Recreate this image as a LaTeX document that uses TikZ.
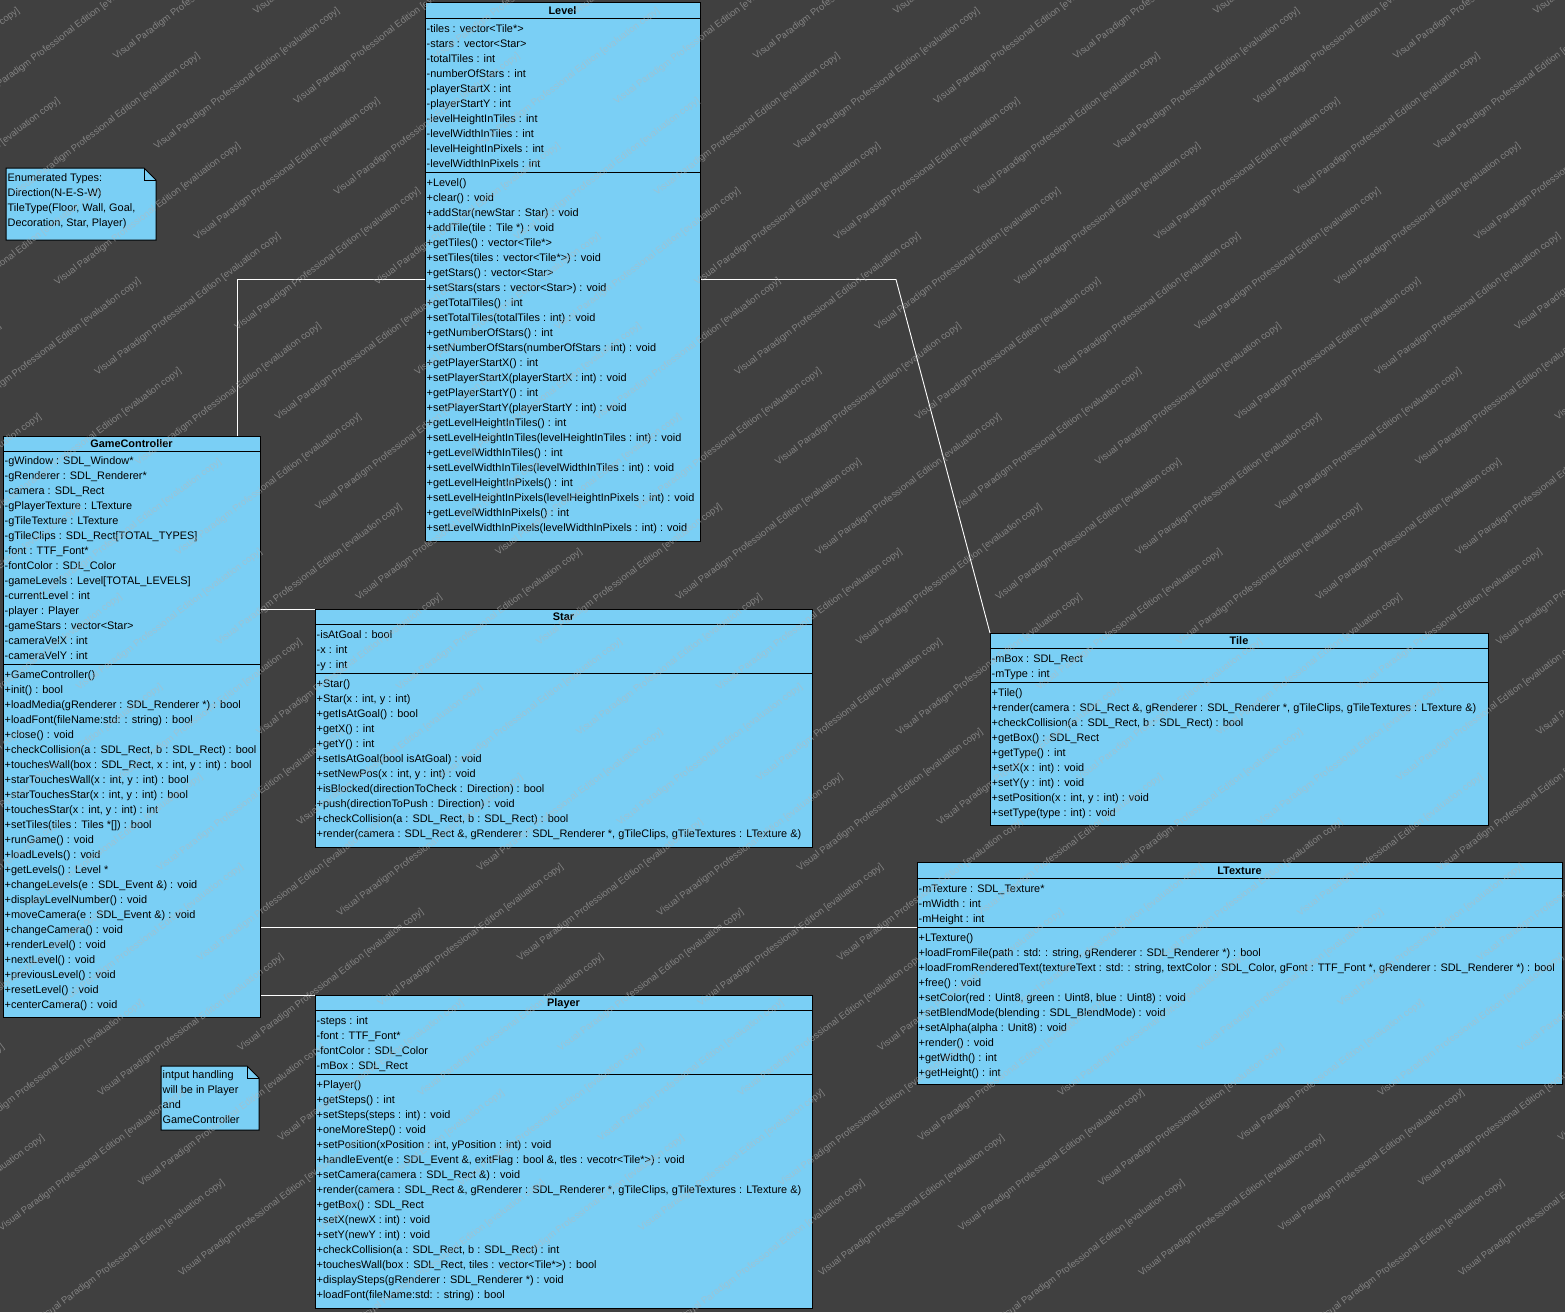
\documentclass[tikz,border=0pt]{standalone}
\usepackage{fontspec}
\setmainfont{Liberation Sans}
\usetikzlibrary{positioning}

\definecolor{bgdark}{RGB}{64,64,64}
\definecolor{classblue}{RGB}{122,207,245}
\definecolor{wmgray}{RGB}{185,185,185}

\newcommand{\wmtext}{Visual Paradigm Professional Edition [evaluation copy]}
\newcommand{\wmrow}{\wmtext\hspace{70pt}\wmtext\hspace{70pt}\wmtext\hspace{70pt}\wmtext\hspace{70pt}\wmtext\hspace{70pt}%
  \wmtext\hspace{70pt}\wmtext\hspace{70pt}\wmtext\hspace{70pt}\wmtext}

\tikzset{
	classbox/.style={draw=black, fill=classblue, line width=1pt, anchor=north west, inner sep=0pt},
	classname/.style={anchor=base, inner sep=0pt, font=\fontsize{10.9}{15}\selectfont\bfseries},
	members/.style={anchor=north west, align=left, inner sep=0pt, font=\fontsize{10.9}{15}\selectfont, execute at begin node=\strut},
	divider/.style={draw=black, line width=1pt},
	assoc/.style={draw=white, line width=0.9pt},
	notebox/.style={draw=black, fill=classblue, line width=1pt},
	wmark/.style={anchor=west, inner sep=0pt, rotate=37, text=wmgray, text opacity=0.55, font=\fontsize{9.5}{9.5}\selectfont},
}

\begin{document}
\begin{tikzpicture}[x=1pt, y=-1pt]
	\fill[bgdark] (0,0) rectangle (1565,1312);
	\useasboundingbox (0,0) rectangle (1565,1312);

	% notes
	\draw[notebox] (6,168) -- (144,168) -- (156,180) -- (156,240) -- (6,240) -- cycle;
	\draw[divider] (144,168) -- (144,180) -- (156,180);
	\node[members] (enumnote) at (7.5,173.5) {Enumerated Types:\\Direction(N-E-S-W)\\TileType(Floor, Wall, Goal,\\Decoration, Star, Player)};
	\draw[notebox] (161,1066) -- (247,1066) -- (259,1078) -- (259,1130) -- (161,1130) -- cycle;
	\draw[divider] (247,1066) -- (247,1078) -- (259,1078);
	\node[members] (inputnote) at (162.5,1070.5) {intput handling\\will be in Player\\and\\GameController};

	% Level
	\node[classbox, minimum width=275pt, minimum height=539pt] (level) at (425,2) {};
	\node[classname] at (562.5,14) {Level};
	\draw[divider] (425,18) -- (700,18) (425,172) -- (700,172);
	\node[members] at (426.5,24.5) {-tiles : vector<Tile*>\\-stars : vector<Star>\\-totalTiles : int\\-numberOfStars : int\\-playerStartX : int\\-playerStartY : int\\-levelHeightInTiles : int\\-levelWidthInTiles : int\\-levelHeightInPixels : int\\-levelWidthInPixels : int};
	\node[members] at (426.5,178.5) {+Level()\\+clear() : void\\+addStar(newStar : Star) : void\\+addTile(tile : Tile *) : void\\+getTiles() : vector<Tile*>\\+setTiles(tiles : vector<Tile*>) : void\\+getStars() : vector<Star>\\+setStars(stars : vector<Star>) : void\\+getTotalTiles() : int\\+setTotalTiles(totalTiles : int) : void\\+getNumberOfStars() : int\\+setNumberOfStars(numberOfStars : int) : void\\+getPlayerStartX() : int\\+setPlayerStartX(playerStartX : int) : void\\+getPlayerStartY() : int\\+setPlayerStartY(playerStartY : int) : void\\+getLevelHeightInTiles() : int\\+setLevelHeightInTiles(levelHeightInTiles : int) : void\\+getLevelWidthInTiles() : int\\+setLevelWidthInTiles(levelWidthInTiles : int) : void\\+getLevelHeightInPixels() : int\\+setLevelHeightInPixels(levelHeightInPixels : int) : void\\+getLevelWidthInPixels() : int\\+setLevelWidthInPixels(levelWidthInPixels : int) : void};

	% GameController
	\node[classbox, minimum width=257pt, minimum height=581pt] (gamecontroller) at (3,436) {};
	\node[classname] at (131.5,447) {GameController};
	\draw[divider] (3,451) -- (260,451) (3,664) -- (260,664);
	\node[members] at (4.5,456.5) {-gWindow : SDL\_Window*\\-gRenderer : SDL\_Renderer*\\-camera : SDL\_Rect\\-gPlayerTexture : LTexture\\-gTileTexture : LTexture\\-gTileClips : SDL\_Rect[TOTAL\_TYPES]\\-font : TTF\_Font*\\-fontColor : SDL\_Color\\-gameLevels : Level[TOTAL\_LEVELS]\\-currentLevel : int\\-player : Player\\-gameStars : vector<Star>\\-cameraVelX : int\\-cameraVelY : int};
	\node[members] at (4.5,670.5) {+GameController()\\+init() : bool\\+loadMedia(gRenderer : SDL\_Renderer *) : bool\\+loadFont(fileName:std: : string) : bool\\+close() : void\\+checkCollision(a : SDL\_Rect, b : SDL\_Rect) : bool\\+touchesWall(box : SDL\_Rect, x : int, y : int) : bool\\+starTouchesWall(x : int, y : int) : bool\\+starTouchesStar(x : int, y : int) : bool\\+touchesStar(x : int, y : int) : int\\+setTiles(tiles : Tiles *[]) : bool\\+runGame() : void\\+loadLevels() : void\\+getLevels() : Level *\\+changeLevels(e : SDL\_Event \&) : void\\+displayLevelNumber() : void\\+moveCamera(e : SDL\_Event \&) : void\\+changeCamera() : void\\+renderLevel() : void\\+nextLevel() : void\\+previousLevel() : void\\+resetLevel() : void\\+centerCamera() : void};

	% Star
	\node[classbox, minimum width=497pt, minimum height=238pt] (star) at (315,609) {};
	\node[classname] at (563.5,620) {Star};
	\draw[divider] (315,624) -- (812,624) (315,673) -- (812,673);
	\node[members] at (316.5,630.5) {-isAtGoal : bool\\-x : int\\-y : int};
	\node[members] at (316.5,679.5) {+Star()\\+Star(x : int, y : int)\\+getIsAtGoal() : bool\\+getX() : int\\+getY() : int\\+setIsAtGoal(bool isAtGoal) : void\\+setNewPos(x : int, y : int) : void\\+isBlocked(directionToCheck : Direction) : bool\\+push(directionToPush : Direction) : void\\+checkCollision(a : SDL\_Rect, b : SDL\_Rect) : bool\\+render(camera : SDL\_Rect \&, gRenderer : SDL\_Renderer *, gTileClips, gTileTextures : LTexture \&)};

	% Tile
	\node[classbox, minimum width=498pt, minimum height=192pt] (tile) at (990,633) {};
	\node[classname] at (1239,644) {Tile};
	\draw[divider] (990,648) -- (1488,648) (990,682) -- (1488,682);
	\node[members] at (991.5,654.5) {-mBox : SDL\_Rect\\-mType : int};
	\node[members] at (991.5,688.5) {+Tile()\\+render(camera : SDL\_Rect \&, gRenderer : SDL\_Renderer *, gTileClips, gTileTextures : LTexture \&)\\+checkCollision(a : SDL\_Rect, b : SDL\_Rect) : bool\\+getBox() : SDL\_Rect\\+getType() : int\\+setX(x : int) : void\\+setY(y : int) : void\\+setPosition(x : int, y : int) : void\\+setType(type : int) : void};

	% LTexture
	\node[classbox, minimum width=645pt, minimum height=222pt] (ltexture) at (917,862) {};
	\node[classname] at (1239.5,874) {LTexture};
	\draw[divider] (917,878) -- (1562,878) (917,927) -- (1562,927);
	\node[members] at (918.5,884.5) {-mTexture : SDL\_Texture*\\-mWidth : int\\-mHeight : int};
	\node[members] at (918.5,933.5) {+LTexture()\\+loadFromFile(path : std: : string, gRenderer : SDL\_Renderer *) : bool\\+loadFromRenderedText(textureText : std: : string, textColor : SDL\_Color, gFont : TTF\_Font *, gRenderer : SDL\_Renderer *) : bool\\+free() : void\\+setColor(red : Uint8, green : Uint8, blue : Uint8) : void\\+setBlendMode(blending : SDL\_BlendMode) : void\\+setAlpha(alpha : Unit8) : void\\+render() : void\\+getWidth() : int\\+getHeight() : int};

	% Player
	\node[classbox, minimum width=497pt, minimum height=313pt] (player) at (315,995) {};
	\node[classname] at (563.5,1006) {Player};
	\draw[divider] (315,1010) -- (812,1010) (315,1074) -- (812,1074);
	\node[members] at (316.5,1016.5) {-steps : int\\-font : TTF\_Font*\\-fontColor : SDL\_Color\\-mBox : SDL\_Rect};
	\node[members] at (316.5,1080.5) {+Player()\\+getSteps() : int\\+setSteps(steps : int) : void\\+oneMoreStep() : void\\+setPosition(xPosition : int, yPosition : int) : void\\+handleEvent(e : SDL\_Event \&, exitFlag : bool \&, tles : vecotr<Tile*>) : void\\+setCamera(camera : SDL\_Rect \&) : void\\+render(camera : SDL\_Rect \&, gRenderer : SDL\_Renderer *, gTileClips, gTileTextures : LTexture \&)\\+getBox() : SDL\_Rect\\+setX(newX : int) : void\\+setY(newY : int) : void\\+checkCollision(a : SDL\_Rect, b : SDL\_Rect) : int\\+touchesWall(box : SDL\_Rect, tiles : vector<Tile*>) : bool\\+displaySteps(gRenderer : SDL\_Renderer *) : void\\+loadFont(fileName:std: : string) : bool};

	% associations
	\draw[assoc] ([xshift=105.5pt]gamecontroller.north) |- ([yshift=-7.5pt]level.west);
	\draw[assoc] ([yshift=-7.5pt]level.east) -- ++(195,0) -- (tile.north west);
	\draw[assoc] (gamecontroller.east |- star.north west) -- (star.north west);
	\path ([yshift=46pt]ltexture.west) coordinate (ltin);
	\draw[assoc] (gamecontroller.east |- ltin) -- (ltin);
	\draw[assoc] (gamecontroller.east |- player.north west) -- (player.north west);

	% watermark
	\begin{scope}
		\clip (0,0) rectangle (1565,1312);
		\foreach \c [count=\i] in {-1800,-1720,...,1560} {
			\pgfmathsetmacro{\s}{mod(\i,4)*75}
			\node[wmark] at (\c,1320) {\hspace*{\s pt}\wmrow};
		}
	\end{scope}
\end{tikzpicture}
\end{document}
